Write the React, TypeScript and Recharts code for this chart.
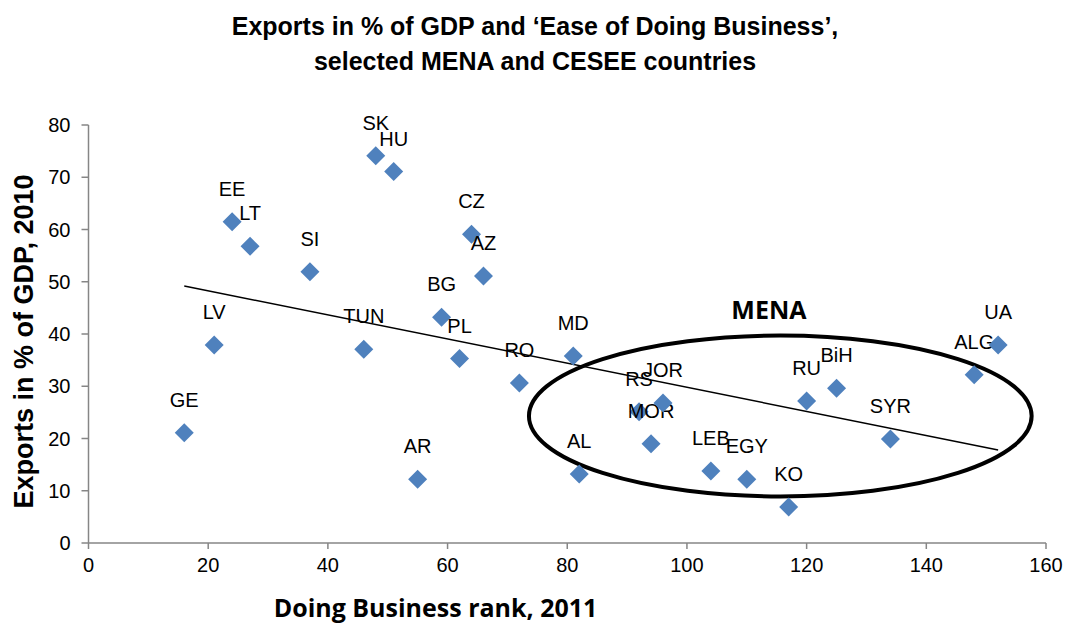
import React from 'react';
import {
  ScatterChart,
  Scatter,
  XAxis,
  YAxis,
  ReferenceLine,
  ReferenceArea,
  ReferenceDot,
} from 'recharts';

// Doing Business rank 2011 (x) vs exports in % of GDP 2010 (y)
const countries = ['GE', 'LV', 'EE', 'LT', 'SI', 'TUN', 'SK', 'HU', 'AR', 'BG', 'PL', 'CZ', 'AZ', 'RO', 'MD', 'AL', 'RS', 'MOR', 'JOR', 'LEB', 'EGY', 'KO', 'RU', 'BiH', 'SYR', 'ALG', 'UA'];
const ranks = [16, 21, 24, 27, 37, 46, 48, 51, 55, 59, 62, 64, 66, 72, 81, 82, 92, 94, 96, 104, 110, 117, 120, 125, 134, 148, 152];
const exportsPct = [21.1, 37.9, 61.5, 56.8, 51.9, 37.1, 74.1, 71.1, 12.2, 43.2, 35.3, 59.1, 51.1, 30.6, 35.8, 13.2, 25.1, 19.0, 26.8, 13.8, 12.2, 6.9, 27.2, 29.6, 19.9, 32.2, 37.9];

const xTicks = [0, 20, 40, 60, 80, 100, 120, 140, 160];
const yTicks = [0, 10, 20, 30, 40, 50, 60, 70, 80];

// linear trend line end points
const trendX = [16, 152];
const trendY = [49.2, 17.8];

// MENA ellipse: center and radii in data units
const menaCenter = [115.6, 24.3];
const menaRadius = [42.0, 15.4];
const menaLabelPos = [113.7, 42.9];

const data = countries.map((name, i) => ({ name, x: ranks[i], y: exportsPct[i] }));

const BLUE = '#4F81BD';
const AXIS = '#868686';

const Diamond = (props: any) => {
  const { cx, cy, payload } = props;
  const h = 9.5;
  return (
    <g>
      <path d={`M${cx},${cy - h}L${cx + h},${cy}L${cx},${cy + h}L${cx - h},${cy}Z`} fill={BLUE} />
      <text x={cx} y={cy - 26} textAnchor="middle" fontFamily="Liberation Sans, Arial" fontSize={20} fill="#000">
        {payload.name}
      </text>
    </g>
  );
};

const EllipseShape = (props: any) => {
  const { x, y, width, height } = props;
  return (
    <ellipse
      cx={x + width / 2}
      cy={y + height / 2}
      rx={width / 2}
      ry={height / 2}
      fill="none"
      stroke="#000"
      strokeWidth={4}
    />
  );
};

const MenaLabel = (props: any) => (
  <text x={props.cx} y={props.cy} textAnchor="middle" fontFamily="Open Sans" fontWeight="bold" fontSize={25} fill="#000">
    MENA
  </text>
);

const tickStyle = { fontFamily: 'Liberation Sans, Arial', fontSize: 20, fill: '#000' };

export default function App() {
  return (
    <div style={{ position: 'absolute', left: 0, top: 0, width: 1065, height: 628, background: '#fff' }}>
      <ScatterChart width={1065} height={628} margin={{ top: 125, right: 19, bottom: 55, left: 28.5 }}>
        <XAxis
          type="number"
          dataKey="x"
          domain={[0, 160]}
          ticks={xTicks}
          interval={0}
          height={30}
          stroke={AXIS}
          strokeWidth={1.5}
          tickSize={6}
          tickMargin={9}
          tick={tickStyle}
        />
        <YAxis
          type="number"
          dataKey="y"
          domain={[0, 80]}
          ticks={yTicks}
          interval={0}
          width={60}
          stroke={AXIS}
          strokeWidth={1.5}
          tickSize={7}
          tickMargin={11}
          tick={tickStyle}
        />
        <Scatter data={data} shape={Diamond} isAnimationActive={false} />
        <ReferenceLine
          segment={[
            { x: trendX[0], y: trendY[0] },
            { x: trendX[1], y: trendY[1] },
          ]}
          stroke="#000"
          strokeWidth={1.5}
        />
        <ReferenceArea
          x1={menaCenter[0] - menaRadius[0]}
          x2={menaCenter[0] + menaRadius[0]}
          y1={menaCenter[1] - menaRadius[1]}
          y2={menaCenter[1] + menaRadius[1]}
          shape={EllipseShape}
        />
        <ReferenceDot x={menaLabelPos[0]} y={menaLabelPos[1]} r={0} shape={MenaLabel} />
      </ScatterChart>
      <svg width={1065} height={628} style={{ position: 'absolute', left: 0, top: 0, pointerEvents: 'none' }}>
        <text x={535} y={35} textAnchor="middle" fontFamily="Liberation Sans, Arial" fontWeight="bold" fontSize={25} fill="#000">
          Exports in % of GDP and ‘Ease of Doing Business’,
        </text>
        <text x={535} y={70} textAnchor="middle" fontFamily="Liberation Sans, Arial" fontWeight="bold" fontSize={25} fill="#000">
          selected MENA and CESEE countries
        </text>
        <text
          transform="translate(33,341.5) rotate(-90)"
          textAnchor="middle"
          fontFamily="Liberation Sans, Arial"
          fontWeight="bold"
          fontSize={27}
          fill="#000"
        >
          Exports in % of GDP, 2010
        </text>
        <text x={435.5} y={617} textAnchor="middle" fontFamily="Open Sans" fontWeight="bold" fontSize={25} fill="#000">
          Doing Business rank, 2011
        </text>
      </svg>
    </div>
  );
}
